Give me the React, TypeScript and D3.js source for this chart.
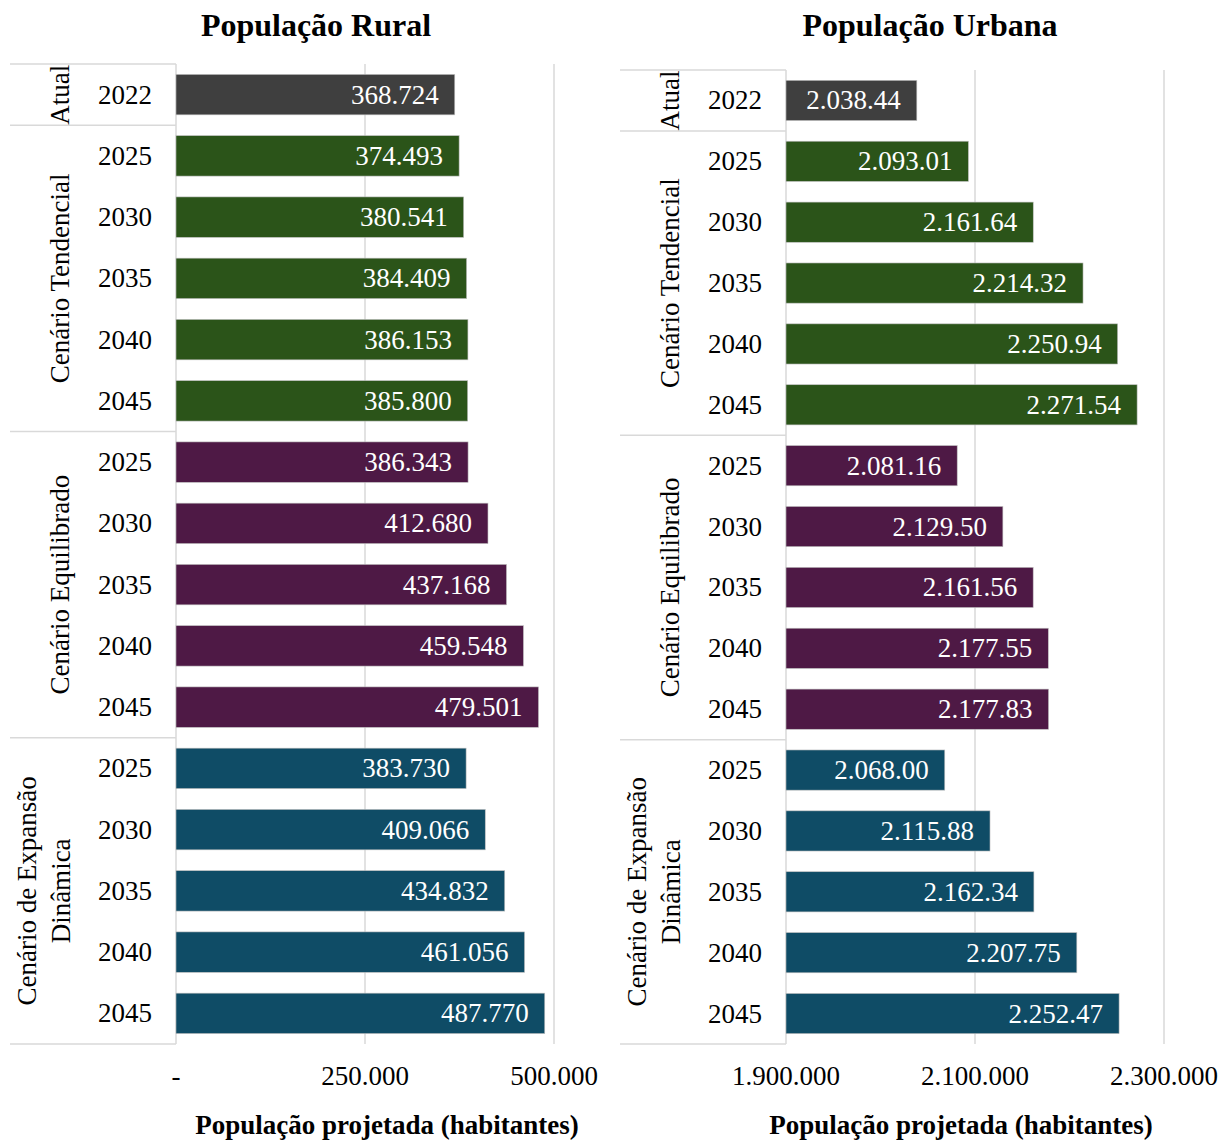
import React from "react";
import * as d3 from "d3";

// categorias (linhas da tabela)
const years = ["2022", "2025", "2030", "2035", "2040", "2045", "2025", "2030", "2035", "2040", "2045", "2025", "2030", "2035", "2040", "2045"];
const groups = ["Atual", "Cenário Tendencial", "Cenário Equilibrado", "Cenário de Expansão|Dinâmica"];
const groupSizes = [1, 5, 5, 5];
const groupColors = ["#3f3f3f", "#2b5419", "#4e1945", "#0f4c66"];

const ruralValues = [368724, 374493, 380541, 384409, 386153, 385800, 386343, 412680, 437168, 459548, 479501, 383730, 409066, 434832, 461056, 487770];
const urbanValues = [2038440, 2093010, 2161640, 2214320, 2250940, 2271540, 2081160, 2129500, 2161560, 2177550, 2177830, 2068000, 2115880, 2162340, 2207750, 2252470];

const ruralTicks = [0, 250000, 500000];
const urbanTicks = [1900000, 2100000, 2300000];

const FONT = "'Liberation Serif', 'Times New Roman', serif";
const fmt = (v: number) => (v === 0 ? "-" : d3.format(",")(v).replace(/,/g, "."));

interface PanelProps {
  x0: number;
  top: number;
  title: string;
  titleX: number;
  axisTitleX: number;
  values: number[];
  ticks: number[];
  domain: [number, number];
  truncate: boolean;
}

const Panel: React.FC<PanelProps> = ({ x0, top, title, titleX, axisTitleX, values, ticks, domain, truncate }) => {
  const tableLeft = x0;
  const axisX = x0 + 166;
  const bottom = 1044;
  const x = d3.scaleLinear().domain(domain).range([axisX, axisX + 378]);
  const y = d3
    .scaleBand<number>()
    .domain(d3.range(years.length))
    .range([top, bottom])
    .paddingInner(0.34)
    .paddingOuter(0.17);
  const step = y.step();

  // índice do grupo para cada linha
  const rowGroup: number[] = [];
  groupSizes.forEach((n, g) => {
    for (let i = 0; i < n; i++) rowGroup.push(g);
  });
  const starts: number[] = Array.from(d3.cumsum([0, ...groupSizes]));

  return (
    <g>
      <text x={titleX} y={36} textAnchor="middle" fontWeight="bold" fontSize={32} fontFamily={FONT}>
        {title}
      </text>
      {ticks.map((t) => (
        <g key={t}>
          {t !== domain[0] && (
            <line x1={x(t)} x2={x(t)} y1={top} y2={bottom} stroke="#d9d9d9" strokeWidth={1.5} />
          )}
          <text x={x(t)} y={1085} textAnchor="middle" fontSize={27} fontFamily={FONT}>
            {fmt(t)}
          </text>
        </g>
      ))}
      {/* tabela de categorias */}
      {starts.map((s, i) => (
        <line key={i} x1={tableLeft} x2={axisX} y1={top + s * step} y2={top + s * step} stroke="#d9d9d9" strokeWidth={1.5} />
      ))}
      <line x1={axisX} x2={axisX} y1={top} y2={bottom} stroke="#d9d9d9" strokeWidth={1.5} />
      {groups.map((g, i) => {
        const cy = top + ((starts[i] + starts[i + 1]) / 2) * step;
        const lines = g.split("|");
        const cx = tableLeft + 50;
        return (
          <text key={g} transform={`translate(${cx},${cy}) rotate(-90)`} textAnchor="middle" fontSize={27} fontFamily={FONT}>
            {lines.map((l, j) => (
              <tspan key={j} x={0} dy={j === 0 ? (lines.length === 1 ? 9 : -24) : 34}>
                {l}
              </tspan>
            ))}
          </text>
        );
      })}
      {values.map((v, i) => {
        const by = y(i) as number;
        const label = truncate ? fmt(v).slice(0, -1) : fmt(v);
        return (
          <g key={i}>
            <text x={axisX - 51} y={by + y.bandwidth() / 2 + 9} textAnchor="middle" fontSize={27} fontFamily={FONT}>
              {years[i]}
            </text>
            <rect x={axisX} y={by} width={x(v) - axisX} height={y.bandwidth()} fill={groupColors[rowGroup[i]]} stroke="#bfbfbf" strokeWidth={0.6} />
            <text x={x(v) - 16} y={by + y.bandwidth() / 2 + 9} textAnchor="end" fontSize={27} fill="#ffffff" fontFamily={FONT}>
              {label}
            </text>
          </g>
        );
      })}
      <text x={axisTitleX} y={1134} textAnchor="middle" fontWeight="bold" fontSize={27} fontFamily={FONT}>
        População projetada (habitantes)
      </text>
    </g>
  );
};

const App: React.FC = () => {
  return (
    <svg width={1219} height={1140} style={{ position: "absolute", left: 0, top: 0, background: "#fff" }}>
      <rect width={1219} height={1140} fill="#fff" />
      <Panel x0={10} top={64} title="População Rural" titleX={316} axisTitleX={387} values={ruralValues} ticks={ruralTicks} domain={[0, 500000]} truncate={false} />
      <Panel x0={620} top={70} title="População Urbana" titleX={930} axisTitleX={961} values={urbanValues} ticks={urbanTicks} domain={[1900000, 2300000]} truncate={true} />
    </svg>
  );
};

export default App;
